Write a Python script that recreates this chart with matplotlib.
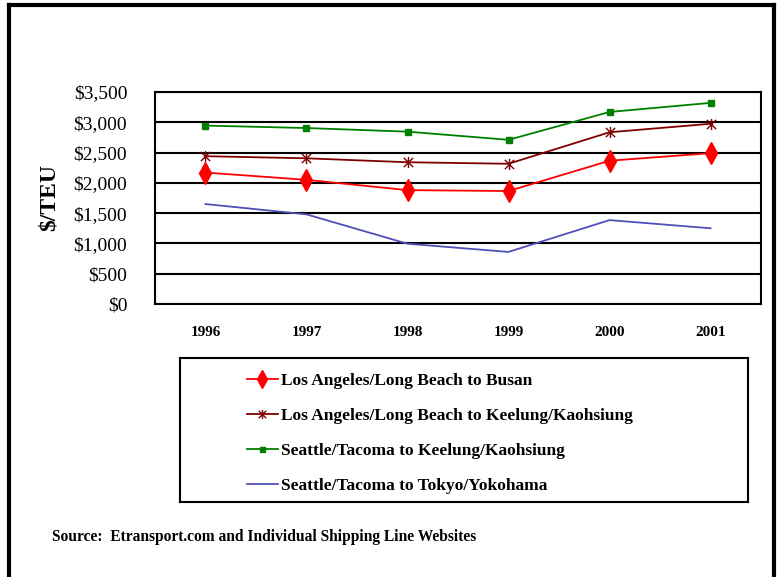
import matplotlib.pyplot as plt
from matplotlib.lines import Line2D
from matplotlib.path import Path

years = ['1996', '1997', '1998', '1999', '2000', '2001']
la_busan = [2170, 2050, 1880, 1865, 2365, 2490]
la_keelung = [2440, 2405, 2340, 2315, 2835, 2975]
sea_keelung = [2945, 2905, 2845, 2710, 3170, 3320]
sea_tokyo = [1650, 1480, 995, 860, 1385, 1250]

labels = ['Los Angeles/Long Beach to Busan',
          'Los Angeles/Long Beach to Keelung/Kaohsiung',
          'Seattle/Tacoma to Keelung/Kaohsiung',
          'Seattle/Tacoma to Tokyo/Yokohama']
yticks = [0, 500, 1000, 1500, 2000, 2500, 3000, 3500]
ytick_labels = ['$0', '$500', '$1,000', '$1,500', '$2,000', '$2,500', '$3,000', '$3,500']

plt.rcParams['font.family'] = ['Liberation Serif', 'DejaVu Serif']

# star marker: x with a vertical bar
star = Path([(-1, -1), (1, 1), (-1, 1), (1, -1), (0, -1.2), (0, 1.2)],
            [Path.MOVETO, Path.LINETO, Path.MOVETO, Path.LINETO, Path.MOVETO, Path.LINETO])

fig = plt.figure(figsize=(7.78, 5.77), dpi=100)
ax = fig.add_axes([0.1992, 0.4731, 0.7790, 0.3675])

x = range(len(years))
l1, = ax.plot(x, la_busan, color='#ff0000', marker='d', markersize=11, linewidth=1.3)
l2, = ax.plot(x, la_keelung, color='#800000', marker=star, markersize=8, markeredgewidth=1, linewidth=1.3)
l3, = ax.plot(x, sea_keelung, color='#008000', marker='s', markersize=4.5, linewidth=1.3)
l4, = ax.plot(x, sea_tokyo, color='#5050b8', linewidth=1.3)

ax.set_xlim(-0.5, len(years) - 0.5)
ax.set_ylim(0, 3500)
ax.set_yticks(yticks)
ax.set_yticklabels(ytick_labels, fontsize=14)
ax.set_xticks(list(x))
ax.set_xticklabels(years, fontsize=11, fontweight='bold')
ax.tick_params(axis='y', length=0, pad=20)
ax.tick_params(axis='x', length=0, pad=16)
ax.grid(axis='y', color='black', linewidth=1.5)
ax.set_axisbelow(True)
for s in ax.spines.values():
    s.set_linewidth(1.5)
    s.set_color('black')
ax.set_ylabel('$/TEU', fontsize=17, fontweight='bold', labelpad=10)

# legend box
lax = fig.add_axes([0.2314, 0.130, 0.730, 0.2496])
lax.set_xticks([])
lax.set_yticks([])
for s in lax.spines.values():
    s.set_linewidth(1.5)
lax.legend([l1, l2, l3, l4], labels, loc='center left', bbox_to_anchor=(0.09, 0.475),
           frameon=False, prop={'size': 12.5, 'weight': 'bold'}, handlelength=1.8,
           handletextpad=0.2, labelspacing=1.08, markerscale=0.8)

fig.text(0.067, 0.069, 'Source:  Etransport.com and Individual Shipping Line Websites',
         fontsize=11.2, fontweight='bold', va='center')

# outer frame
fig.add_artist(Line2D([0.0122, 0.0122], [0, 0.992], color='black', linewidth=3))
fig.add_artist(Line2D([0.0122, 0.9955], [0.992, 0.992], color='black', linewidth=3))
fig.add_artist(Line2D([0.9955, 0.9955], [0, 0.992], color='black', linewidth=3))

plt.savefig('out.png', dpi=100)
